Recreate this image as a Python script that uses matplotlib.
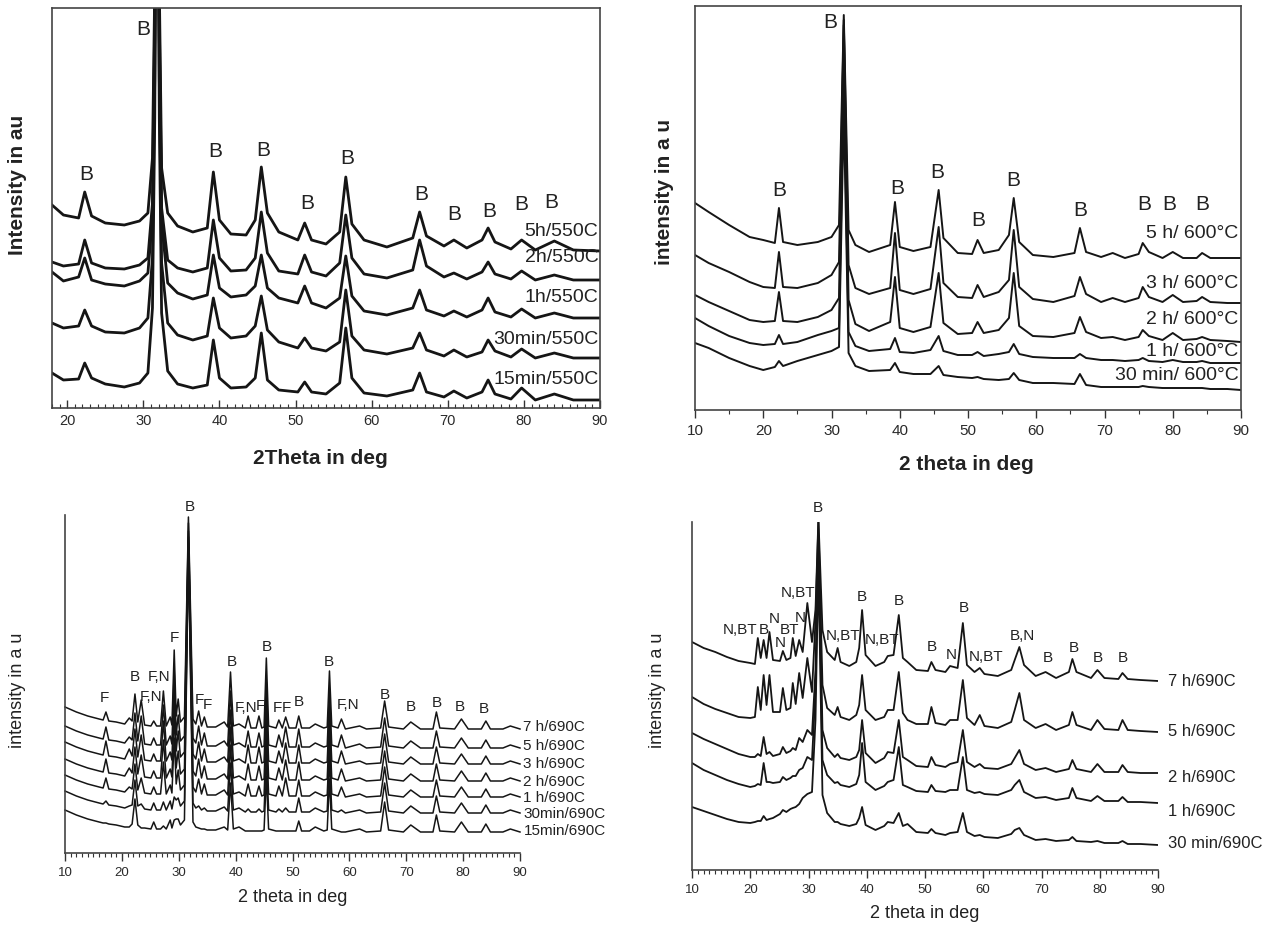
import numpy as np
import matplotlib
matplotlib.use("Agg")
import matplotlib.pyplot as plt
from matplotlib.ticker import MultipleLocator

plt.rcParams['font.family'] = ['Liberation Sans', 'DejaVu Sans']

# ---------------- TOP LEFT: 550C ----------------
tl_x = [18, 19.5, 21.5, 22.3, 23.2, 25, 27.5, 29.5, 30.6, 31.2, 31.5, 31.8, 32.1, 32.4, 33.2, 34.5,
        36.5, 38.4, 39.2, 40.0, 41.5, 43.5, 44.7, 45.5, 46.3, 47.8, 50.3, 51.2, 52.1, 54.0, 55.8,
        56.6, 57.4, 59.0, 62.0, 65.4, 66.3, 67.2, 69.5, 70.8, 72.5, 74.5, 75.3, 76.2, 78.3, 79.7,
        81.5, 84.0, 86.5, 90.0]
tl_names = ["5h/550C", "2h/550C", "1h/550C", "30min/550C", "15min/550C"]
tl_5h = [203, 193, 190, 216, 192, 185, 183, 187, 195, 250, 420, 700, 420, 240, 195, 182, 176, 180,
         236, 188, 174, 173, 188, 241, 195, 176, 168, 185, 168, 164, 176, 231, 184, 168, 161, 170,
         196, 172, 162, 168, 160, 168, 180, 166, 159, 168, 158, 167, 158, 157]
tl_2h = [146, 142, 144, 168, 145, 140, 139, 143, 150, 205, 390, 700, 390, 200, 148, 140, 136, 140,
         188, 150, 137, 138, 150, 196, 155, 137, 134, 153, 136, 132, 145, 193, 150, 134, 130, 138,
         168, 142, 131, 135, 129, 136, 146, 134, 129, 137, 128, 133, 128, 128]
tl_1h = [136, 127, 131, 150, 128, 124, 122, 127, 135, 190, 370, 700, 370, 185, 125, 115, 109, 113,
         153, 120, 111, 113, 122, 153, 120, 110, 105, 122, 105, 100, 110, 152, 112, 97, 93, 100,
         118, 98, 92, 97, 91, 98, 110, 96, 91, 99, 90, 95, 90, 90]
tl_30m = [85, 80, 82, 98, 82, 76, 75, 80, 90, 150, 330, 700, 330, 145, 85, 73, 68, 72,
          110, 80, 70, 72, 82, 112, 78, 66, 60, 70, 60, 57, 66, 118, 72, 58, 54, 60,
          75, 58, 52, 58, 51, 56, 68, 57, 51, 59, 50, 55, 50, 50]
tl_15m = [35, 28, 29, 45, 30, 24, 21, 25, 35, 100, 290, 700, 290, 95, 37, 24, 20, 23,
          68, 30, 20, 21, 30, 75, 28, 18, 16, 26, 16, 14, 25, 80, 30, 15, 12, 18,
          35, 16, 11, 17, 10, 16, 28, 14, 9, 20, 8, 14, 8, 8]
tl_label_y = [176, 150, 110, 68, 28]
tl_mark_x = [30.0, 22.5, 39.4, 45.7, 51.6, 56.8, 66.5, 70.9, 75.5, 79.6, 83.6]
tl_mark_y = [378, 233, 256, 257, 204, 249, 213, 193, 196, 203, 205]

# ---------------- TOP RIGHT: 600C ----------------
tr_x = [10, 12, 15, 18, 20, 21.7, 22.3, 22.9, 25, 28, 30, 31.1, 31.8, 32.5, 33.5, 35.5, 38.6,
        39.3, 40.0, 42, 44.5, 45.7, 46.4, 48.5, 50.6, 51.4, 52.3, 54.5, 56.0, 56.7, 57.5, 59.5,
        62.5, 65.6, 66.4, 67.3, 69.5, 71.2, 73, 75.0, 75.6, 76.5, 78.5, 80.0, 81.5, 83.5, 84.3,
        85.5, 88, 90]
tr_names = ["5 h/ 600°C", "3 h/ 600°C", "2 h/ 600°C", "1 h/ 600°C", "30 min/ 600°C"]
tr_5h = [207, 198, 185, 173, 170, 167, 202, 168, 165, 168, 173, 185, 395, 180, 165, 158, 165,
         208, 163, 159, 163, 220, 172, 157, 156, 170, 157, 160, 175, 212, 168, 155,
         153, 157, 182, 158, 153, 157, 152, 156, 167, 158, 152, 158, 152, 152, 157, 152, 152, 152]
tr_3h = [155, 147, 138, 128, 123, 122, 158, 123, 122, 127, 135, 148, 390, 145, 122, 116, 122,
         177, 120, 116, 121, 183, 127, 113, 112, 125, 113, 118, 130, 180, 123, 111,
         108, 114, 133, 116, 108, 112, 108, 112, 123, 113, 108, 115, 108, 109, 113, 108, 107, 107]
tr_2h = [115, 108, 99, 90, 88, 89, 118, 89, 88, 93, 100, 112, 385, 110, 86, 79, 88,
         133, 82, 78, 83, 137, 87, 76, 77, 88, 77, 80, 92, 137, 84, 74,
         73, 77, 93, 78, 72, 73, 70, 73, 80, 74, 70, 77, 70, 71, 73, 70, 69, 68]
tr_1h = [92, 84, 74, 67, 65, 66, 75, 66, 68, 75, 79, 82, 330, 78, 64, 59, 61,
         72, 58, 57, 60, 74, 59, 55, 55, 58, 54, 56, 58, 66, 56, 53,
         52, 52, 56, 52, 50, 50, 49, 50, 52, 49, 48, 50, 48, 48, 49, 47, 47, 47]
tr_30m = [67, 62, 52, 44, 40, 43, 49, 44, 49, 55, 59, 63, 300, 57, 44, 39, 40,
          47, 38, 36, 36, 44, 35, 33, 32, 33, 31, 30, 31, 37, 30, 27,
          27, 26, 36, 25, 23, 23, 23, 23, 24, 23, 22, 22, 22, 22, 22, 21, 21, 20]
tr_label_y = [177, 127, 90, 58, 34]
tr_mark_x = [29.8, 22.3, 39.6, 45.5, 51.5, 56.6, 66.4, 75.8, 79.5, 84.3]
tr_mark_y = [388, 220, 222, 237, 189, 229, 200, 205, 205, 205]

# ---------------- BOTTOM LEFT: 690C ----------------
bl_x = [10, 12, 14, 16, 16.7, 17.2, 17.7, 19, 20.5, 21.3, 21.8, 22.3, 22.8, 23.4, 24.0, 25.1,
        25.6, 26.1, 26.8, 27.3, 27.8, 28.5, 28.8, 29.2, 29.55, 29.9, 30.3, 31.0, 31.7, 32.5, 33.0,
        33.5, 34.0, 34.5, 35.0, 36.5, 38.0, 38.6, 39.1, 39.6, 40.6, 41.7, 42.2, 42.7, 43.6, 44.1,
        44.6, 45.0, 45.4, 45.8, 47.1, 47.6, 48.2, 48.8, 49.4, 50.6, 51.1, 51.6, 53.0, 54.0, 55.5,
        56.1, 56.5, 56.9, 58.0, 58.6, 59.3, 61.8, 63.0, 65.5, 66.2, 66.9, 69.5, 70.8, 72.5, 74.7,
        75.3, 75.9, 78.5, 79.7, 80.9, 83.2, 84.0, 84.8, 87.0, 88.3, 90]
# common background rise (low angle, between close peaks)
bl_bg = [22, 17, 13, 10, 9, 9, 8, 7, 5, 5, 8, 5, 7, 4, 4, 3,
         3, 3, 3, 3, 3, 4, 4, 4, 13, 5, 7, 12, 14, 10, 5,
         4, 3, 3, 2, 2, 2, 2, 2, 3, 1, 1, 1, 1, 1, 1,
         1, 2, 1, 3, 1, 1, 1, 1, 1, 1, 1, 1, 1, 1, 1,
         2, 1, 3, 1, 0, 0, 0, 0, 1, 0, 2, 0, 0, 0, 0,
         0, 1, 0, 0, 0, 0, 0, 0, 0, 0, 0]
bl_names = ["7 h/690C", "5 h/690C", "3 h/690C", "2 h/690C", "1 h/690C", "30min/690C", "15min/690C"]
bl_offset = [124, 105, 89, 72, 56, 40, 21]
bl_peak_x = [17.2, 21.3, 22.3, 23.4, 25.6, 27.3, 28.5, 29.2, 29.9, 31.7, 33.5, 34.5, 38.0, 39.1,
             40.6, 42.2, 44.1, 45.4, 47.6, 48.8, 51.1, 54.0, 56.5, 58.6, 61.8, 66.2, 70.8, 75.3,
             79.7, 84.0, 88.3]
bl_7h = [8, 6, 30, 25, 5, 35, 8, 75, 25, 198, 14, 9, 5, 55, 4, 12, 12, 70, 8, 11, 12, 4, 57, 10, 3, 28, 7, 17, 10, 8, 3]
bl_5h = [12, 6, 30, 28, 7, 40, 8, 75, 28, 211, 18, 12, 5, 55, 4, 16, 14, 65, 12, 20, 18, 4, 57, 13, 4, 30, 7, 17, 10, 8, 3]
bl_3h = [14, 10, 30, 25, 7, 40, 8, 72, 28, 219, 18, 12, 5, 52, 4, 18, 16, 62, 12, 20, 18, 4, 55, 13, 3, 30, 7, 17, 10, 8, 3]
bl_2h = [13, 8, 29, 22, 7, 38, 8, 65, 25, 230, 18, 12, 5, 52, 4, 16, 14, 60, 12, 20, 18, 4, 55, 12, 3, 30, 7, 17, 10, 8, 3]
bl_1h = [10, 5, 28, 15, 7, 32, 8, 55, 22, 242, 14, 10, 5, 50, 4, 12, 10, 58, 10, 18, 16, 4, 53, 10, 3, 30, 7, 17, 10, 8, 3]
bl_30m = [3, 2, 28, 5, 7, 8, 8, 12, 10, 251, 3, 2, 4, 48, 4, 3, 3, 56, 3, 4, 14, 4, 53, 3, 3, 30, 7, 17, 10, 8, 3]
bl_15m = [0, 0, 28, 0, 7, 3, 8, 8, 8, 265, 0, 0, 3, 47, 4, 0, 0, 55, 0, 0, 10, 4, 52, 0, 3, 30, 7, 17, 10, 8, 3]
bl_label_y = [126, 107, 89, 71, 55, 39, 22]
bl_mark_txt = ["F", "B", "F,N", "F,N", "F", "B", "F", "F", "B", "F,N", "F", "B", "F", "F", "B",
               "B", "F,N", "B", "B", "B", "B", "B"]
bl_mark_x = [17.0, 22.3, 26.5, 25.1, 29.2, 32.0, 33.6, 35.1, 39.4, 41.8, 44.3, 45.5, 47.3, 49.0,
             51.1, 56.4, 59.8, 66.3, 70.8, 75.4, 79.5, 83.7]
bl_mark_y = [155, 176, 176, 156, 215, 346, 153, 148, 191, 145, 147, 206, 145, 145, 151, 191,
             148, 158, 146, 150, 146, 144]

# ---------------- BOTTOM RIGHT: 690C ----------------
br_x = [10, 12, 14, 16, 18, 20, 20.8, 21.3, 21.8, 22.3, 22.8, 23.3, 23.9, 25.1, 25.6, 26.2,
        26.9, 27.3, 27.8, 28.4, 29.0, 29.8, 30.6, 31.2, 31.7, 32.4, 33.2, 34.5, 35.0, 35.5, 37.0,
        38.2, 38.7, 39.2, 39.8, 41.5, 43.0, 43.6, 44.6, 45.5, 46.2, 47.0, 48.5, 50.5, 51.1, 51.8,
        53.5, 54.3, 55.6, 56.5, 57.2, 58.5, 59.4, 60.2, 62.5, 64.8, 65.4, 66.2, 67.0, 69.0, 70.7,
        72.5, 74.7, 75.3, 76.0, 78.5, 79.6, 80.8, 83.2, 83.9, 84.8, 87.0, 90]
br_names = ["7 h/690C", "5 h/690C", "2 h/690C", "1 h/690C", "30 min/690C"]
br_7h = [228, 222, 218, 213, 209, 207, 206, 232, 212, 230, 212, 238, 210, 209, 219, 210,
         212, 232, 214, 230, 218, 267, 228, 260, 352, 240, 218, 210, 222, 208, 204,
         208, 222, 260, 215, 204, 208, 214, 215, 255, 212, 208, 200, 199, 208, 200,
         198, 204, 202, 247, 205, 198, 202, 196, 194, 200, 210, 223, 205, 194, 198,
         192, 198, 211, 198, 192, 200, 192, 191, 197, 191, 190, 189]
br_5h = [173, 166, 161, 157, 153, 152, 153, 183, 160, 195, 165, 195, 158, 158, 182, 160,
         162, 187, 166, 197, 172, 212, 178, 250, 348, 185, 162, 155, 163, 153, 150,
         155, 165, 195, 160, 150, 153, 160, 160, 198, 157, 150, 146, 146, 163, 147,
         145, 150, 150, 190, 152, 145, 155, 144, 142, 148, 160, 177, 150, 142, 146,
         140, 145, 158, 145, 140, 150, 141, 140, 150, 140, 139, 138]
br_2h = [137, 131, 126, 121, 116, 113, 113, 116, 114, 133, 116, 118, 114, 116, 123, 117,
         119, 122, 120, 132, 128, 140, 135, 200, 335, 140, 122, 113, 116, 112, 110,
         113, 120, 150, 117, 107, 112, 118, 117, 150, 113, 110, 104, 103, 113, 105,
         103, 106, 108, 140, 108, 103, 106, 102, 101, 106, 112, 120, 106, 100, 102,
         98, 101, 110, 101, 98, 106, 98, 98, 105, 98, 97, 97]
br_1h = [107, 100, 95, 90, 86, 83, 84, 86, 85, 107, 88, 88, 87, 88, 93, 90,
         92, 94, 94, 100, 102, 113, 110, 180, 325, 110, 95, 87, 88, 85, 83,
         86, 95, 127, 88, 80, 84, 88, 90, 123, 85, 83, 79, 78, 85, 79,
         78, 80, 80, 113, 80, 77, 78, 76, 75, 80, 85, 90, 78, 72, 73,
         70, 72, 82, 72, 69, 74, 69, 69, 73, 68, 68, 67]
br_30m = [63, 59, 55, 51, 48, 47, 48, 49, 49, 54, 50, 51, 52, 56, 60, 58,
          61, 62, 63, 66, 72, 76, 78, 150, 305, 75, 57, 48, 48, 46, 44,
          46, 52, 63, 45, 40, 44, 48, 47, 57, 44, 46, 38, 37, 41, 37,
          35, 37, 38, 57, 38, 34, 35, 33, 32, 36, 40, 42, 35, 30, 31,
          29, 30, 33, 29, 28, 29, 27, 27, 29, 26, 26, 25]
br_label_y = [188, 138, 93, 58, 27]
br_mark_txt = ["N,BT", "B", "N", "N", "BT", "N", "N,BT", "B", "N,BT", "B", "N,BT", "B", "B",
               "N", "B", "N,BT", "B,N", "B", "B", "B", "B"]
br_mark_x = [18.2, 22.4, 24.2, 25.1, 26.8, 28.5, 28.2, 31.6, 35.9, 39.2, 42.6, 45.5, 51.2,
             54.5, 56.7, 60.5, 66.8, 71.1, 75.6, 79.7, 84.0]
br_mark_y = [240, 240, 251, 227, 240, 252, 277, 362, 234, 273, 230, 269, 223,
             215, 262, 213, 234, 212, 222, 212, 212]

LINE = "#151515"
TICK = "#2a2a2a"


def rect(l, t, r, b):
    return [l / 1264, 1 - b / 925, (r - l) / 1264, (b - t) / 925]


def style_axis(ax, xlim, ylim, minor, direction, box, labelsize):
    ax.set_xlim(*xlim)
    ax.set_ylim(*ylim)
    ax.xaxis.set_major_locator(MultipleLocator(10))
    ax.xaxis.set_minor_locator(MultipleLocator(minor))
    ax.set_yticks([])
    ax.tick_params(axis="x", which="major", direction=direction, length=6, width=1,
                   labelsize=labelsize, labelcolor=TICK, color="#333", pad=4)
    ax.tick_params(axis="x", which="minor", direction=direction, length=3, width=0.8, color="#333")
    for s in ax.spines.values():
        s.set_color("#444")
        s.set_linewidth(1.2)
    if not box:
        ax.spines["top"].set_visible(False)
        ax.spines["right"].set_visible(False)


fig = plt.figure(figsize=(12.64, 9.25), dpi=100)

# TOP LEFT
ax = fig.add_axes(rect(52, 8, 600, 408))
style_axis(ax, (18, 90), (0, 400), 1, "in", True, 10.5)
for y, name, ly in zip([tl_5h, tl_2h, tl_1h, tl_30m, tl_15m], tl_names, tl_label_y):
    ax.plot(tl_x, y, color=LINE, lw=2.0)
    ax.text(89.8, ly, name, ha="right", va="center", fontsize=14, color="#222")
for mx, my in zip(tl_mark_x, tl_mark_y):
    ax.text(mx, my, "B", ha="center", va="center", fontsize=15, color="#222")
fig.text(320 / 1264, 1 - 458 / 925, "2Theta in deg", ha="center", va="center",
         fontsize=15, fontweight="bold", color="#222")
fig.text(18 / 1264, 1 - 185 / 925, "Intensity in au", ha="center", va="center",
         rotation=90, fontsize=15, fontweight="bold", color="#222")

# TOP RIGHT
ax = fig.add_axes(rect(695, 6, 1241, 410))
style_axis(ax, (10, 90), (0, 404), 5, "out", True, 11)
for y, name, ly in zip([tr_5h, tr_3h, tr_2h, tr_1h, tr_30m], tr_names, tr_label_y):
    ax.plot(tr_x, y, color=LINE, lw=1.4)
    ax.text(89.6, ly, name, ha="right", va="center", fontsize=14, color="#222")
for mx, my in zip(tr_mark_x, tr_mark_y):
    ax.text(mx, my, "B", ha="center", va="center", fontsize=15, color="#222")
fig.text(966 / 1264, 1 - 465 / 925, "2 theta in deg", ha="center", va="center",
         fontsize=15, fontweight="bold", color="#222")
fig.text(665 / 1264, 1 - 192 / 925, "intensity in a u", ha="center", va="center",
         rotation=90, fontsize=15, fontweight="bold", color="#222")

# BOTTOM LEFT
ax = fig.add_axes(rect(65, 515, 520, 853))
style_axis(ax, (10, 90), (0, 338), 1, "out", False, 9.5)
peak_idx = [bl_x.index(p) for p in bl_peak_x]
for off, h, name, ly in zip(bl_offset, [bl_7h, bl_5h, bl_3h, bl_2h, bl_1h, bl_30m, bl_15m],
                            bl_names, bl_label_y):
    y = off + np.array(bl_bg, dtype=float)
    y[peak_idx] += np.array(h, dtype=float)
    ax.plot(bl_x, y, color=LINE, lw=1.1, clip_on=False)
    ax.text(90.6, ly, name, ha="left", va="center", fontsize=11, color="#222", clip_on=False)
for t, mx, my in zip(bl_mark_txt, bl_mark_x, bl_mark_y):
    ax.text(mx, my, t, ha="center", va="center", fontsize=11, color="#222", clip_on=False)
fig.text(293 / 1264, 1 - 897 / 925, "2 theta in deg", ha="center", va="center",
         fontsize=13, color="#222")
fig.text(18 / 1264, 1 - 690 / 925, "intensity in a u", ha="center", va="center",
         rotation=90, fontsize=13, color="#222")

# BOTTOM RIGHT
ax = fig.add_axes(rect(692, 522, 1158, 870))
style_axis(ax, (10, 90), (0, 348), 1, "out", False, 9.5)
for y, name, ly in zip([br_7h, br_5h, br_2h, br_1h, br_30m], br_names, br_label_y):
    ax.plot(br_x, y, color=LINE, lw=1.3)
    ax.text(91.7, ly, name, ha="left", va="center", fontsize=12, color="#222", clip_on=False)
for t, mx, my in zip(br_mark_txt, br_mark_x, br_mark_y):
    ax.text(mx, my, t, ha="center", va="center", fontsize=11, color="#222", clip_on=False)
fig.text(925 / 1264, 1 - 913 / 925, "2 theta in deg", ha="center", va="center",
         fontsize=13, color="#222")
fig.text(658 / 1264, 1 - 690 / 925, "intensity in a u", ha="center", va="center",
         rotation=90, fontsize=13, color="#222")

fig.savefig("out.png", dpi=100)
